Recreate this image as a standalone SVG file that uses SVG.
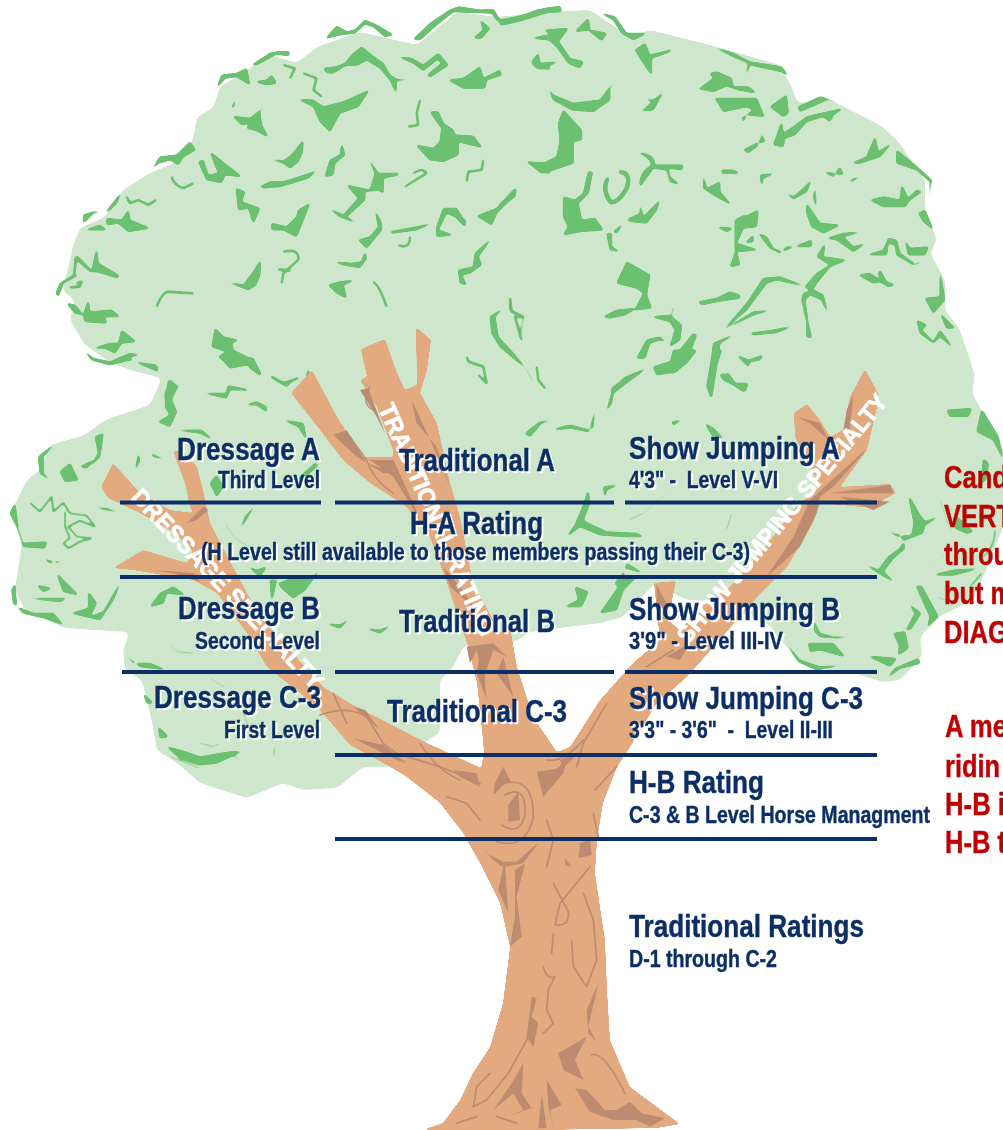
<svg xmlns="http://www.w3.org/2000/svg" width="1003" height="1130" viewBox="0 0 1003 1130">
<style>
.crown{fill:#CEE7CC}
.leaf{fill:#6CC171;stroke:none}
.leafv{fill:none;stroke:#6CC171;stroke-width:5;stroke-linecap:round;stroke-linejoin:round}
.bark{fill:#E3AA80}
.bd{fill:#BC8B70;stroke:none}
.bv{fill:none;stroke:#BC8B70;stroke-width:5;stroke-linecap:round;stroke-linejoin:round}
.rule{stroke:#0B2E66;stroke-width:4;fill:none}
text{font-family:"Liberation Sans",Arial,sans-serif;font-weight:700}
.n{fill:#0B2E66;stroke:#0B2E66;stroke-width:.4;filter:url(#halo)}
.b{font-size:31px}
.s{font-size:24px}
.r{fill:#BF0000;stroke:#BF0000;stroke-width:.4;font-size:31px}
.w{fill:#fff;stroke:#fff;stroke-width:.8;font-size:24px}
</style>
<defs>
<filter id="smooth" x="-5%" y="-5%" width="110%" height="110%" color-interpolation-filters="sRGB">
<feGaussianBlur stdDeviation="3"/>
<feComponentTransfer><feFuncA type="linear" slope="14" intercept="-6.5"/></feComponentTransfer>
</filter>
<filter id="smooth2" x="-5%" y="-5%" width="110%" height="110%" color-interpolation-filters="sRGB">
<feGaussianBlur stdDeviation="1.3"/>
<feComponentTransfer><feFuncA type="linear" slope="10" intercept="-4.5"/></feComponentTransfer>
</filter>
<filter id="round" filterUnits="userSpaceOnUse" x="0" y="0" width="1003" height="1130" color-interpolation-filters="sRGB">
<feGaussianBlur stdDeviation="0.9"/>
<feComponentTransfer><feFuncA type="linear" slope="5" intercept="-1.1"/></feComponentTransfer>
</filter>
<filter id="halo" x="-5%" y="-15%" width="110%" height="130%" color-interpolation-filters="sRGB">
<feDropShadow dx="2" dy="2" stdDeviation="0" flood-color="#fff"/>
</filter>
</defs>

<g id="crown">
<path class="crown" filter="url(#smooth)" d="M70,262 L73,245 L80,228 L105,217 L123,190 L150,173 L175,163 L193,140 L197,117 L213,108 L220,87 L247,70 L270,55 L297,63 L317,47 L360,32 L417,45 L457,12 L497,17 L550,12 L590,10 L630,37 L650,30 L710,45 L780,65 L793,90 L797,103 L830,100 L880,125 L897,140 L925,180 L925,210 L937,240 L930,253 L945,280 L945,310 L960,330 L975,375 L972,393 L1000,443 L1012,470 L1012,500 L1002,530 L985,572 L973,600 L953,610 L938,617 L920,637 L922,657 L900,680 L883,682 L850,672 L813,668 L800,660 L780,640 L770,625 L735,610 L700,600 L687,600 L673,593 L655,583 L623,617 L600,623 L567,627 L530,632 L513,643 L480,640 L463,647 L453,667 L440,680 L440,693 L440,733 L423,743 L400,765 L383,767 L363,767 L337,788 L303,790 L283,783 L247,798 L200,783 L177,763 L157,750 L153,727 L142,680 L125,670 L123,650 L130,632 L95,630 L65,628 L25,610 L15,590 L18,570 L22,545 L12,510 L27,480 L40,470 L50,445 L85,435 L105,420 L150,405 L162,378 L130,370 L110,362 L85,345 L70,320 L75,300 L62,290 Z"/>
</g>

<g id="foliage" filter="url(#round)">
<g transform="translate(50,0) scale(.33333)">
<path class="leaf" d="M745,298 L790,300 L820,320 L880,305 L958,270 L925,320 L870,340 L840,395 L810,365 L790,320 Z"/>
<path class="leaf" d="M820,205 L860,200 L885,190 L905,165 L935,140 L965,165 L1000,190 L1020,225 L1040,238 L1095,238 L1040,242 L1038,280 L1020,240 L990,205 L950,180 L925,195 L885,197 L850,220 L830,218 Z"/>
<path class="leaf" d="M1045,170 L1085,175 L1120,195 L1165,160 L1195,195 L1140,232 L1132,225 L1175,190 L1163,178 L1120,212 L1090,190 Z"/>
<path class="leaf" d="M1140,335 L1165,335 L1180,370 L1210,390 L1215,405 L1270,408 L1297,443 L1225,425 L1225,465 L1180,485 L1140,480 L1098,435 L1150,445 L1170,425 L1175,385 Z"/>
<path class="leaf" d="M1090,118 L1140,70 L1200,30 L1225,20 L1290,30 L1330,28 L1350,60 L1400,50 L1500,22 L1500,35 L1420,60 L1360,75 L1340,60 L1325,40 L1210,35 L1160,75 L1110,120 Z"/>
<path class="leaf" d="M810,135 L860,78 L890,95 L915,90 L945,60 L980,75 L1030,105 L1005,110 L970,80 L945,72 L915,100 L870,105 L830,115 Z"/>
<path class="leaf" d="M500,265 L515,225 L560,220 L590,205 L600,255 L560,230 L525,235 Z"/>
<path class="leaf" d="M605,195 L660,160 L680,155 L720,155 L715,168 L680,162 L620,195 Z"/>
<path class="leaf" d="M305,510 L330,470 L380,465 L420,425 L437,450 L400,470 L385,495 L360,480 L325,490 Z"/>
<path class="leaf" d="M480,455 L575,530 L525,525 L515,548 L470,540 L445,485 L460,480 L475,525 L505,520 Z"/>
<path class="leaf" d="M500,335 L535,345 L560,350 L600,355 L625,335 L660,305 L630,335 L635,375 L655,412 L620,392 L590,385 L600,370 L575,375 L545,345 Z"/>
<path class="leaf" d="M660,478 L700,482 L725,465 L760,420 L758,455 L745,485 L720,505 L700,490 Z"/>
<path class="leaf" d="M875,430 L885,465 L855,490 L850,525 L825,530 L840,480 L870,465 Z"/>
<path class="leaf" d="M605,545 L630,560 L660,545 L700,545 L780,520 L800,510 L775,535 L690,560 L660,562 L640,565 Z"/>
<path class="leaf" d="M890,555 L960,570 L975,520 L955,475 L985,520 L1045,520 L1050,490 L1045,525 L1000,535 L1000,580 L985,570 L945,575 L945,600 L890,650 L920,670 L870,650 L835,625 L880,645 L925,595 Z"/>
<path class="leaf" d="M665,670 L710,680 L740,650 L745,630 L780,610 L770,635 L740,710 L700,690 L665,690 Z"/>
<path class="leaf" d="M558,565 L585,575 L575,605 L630,625 L610,670 L595,625 L565,630 Z"/>
<path class="leaf" d="M1020,695 L1100,680 L1150,668 L1100,690 L1025,700 Z"/>
<path class="leaf" d="M975,630 L995,670 L995,690 L950,745 L925,720 L960,710 L985,680 Z"/>
<path class="leaf" d="M850,785 L905,790 L935,785 L945,755 L950,775 L930,803 L880,795 Z"/>
<path class="leaf" d="M1280,648 L1340,625 L1395,565 L1395,585 L1340,640 L1325,675 Z"/>
<path class="leaf" d="M1160,680 L1180,625 L1220,625 L1245,665 L1255,615 L1245,680 L1215,650 L1190,640 L1165,690 L1210,705 L1160,710 Z"/>
<path class="leaf" d="M1225,810 L1270,800 L1275,760 L1325,715 L1285,770 L1295,795 L1260,820 L1235,825 L1250,855 L1230,850 Z"/>
<path class="leaf" d="M1320,950 L1360,925 L1335,950 L1345,1010 L1420,1100 L1350,1040 L1325,1000 Z"/>
<path class="leaf" d="M75,770 L85,770 L125,812 L140,745 L145,790 L205,825 L205,835 L140,815 L120,815 L80,780 L75,825 L85,825 L40,850 L25,890 L18,880 L30,850 L70,825 Z"/>
<path class="leaf" d="M50,910 L75,915 L100,945 L115,900 L120,935 L185,930 L210,950 L165,950 L170,970 L105,965 L100,945 L75,940 Z"/>
<path class="leaf" d="M130,1045 L180,1030 L205,1030 L215,990 L258,1025 L215,1030 L195,1060 L165,1045 Z"/>
<path class="leaf" d="M100,1050 L130,1075 L180,1085 L240,1060 L270,1065 L240,1070 L250,1085 L320,1095 L325,1115 L290,1100 L240,1080 L180,1095 L125,1080 Z"/>
<path class="leaf" d="M495,985 L520,1010 L565,1020 L545,1030 L550,1050 L590,1070 L635,1130 L600,1105 L585,1075 L540,1075 L548,1105 L505,1070 L530,1055 L485,1040 Z"/>
<path class="leaf" d="M170,655 L215,660 L235,630 L240,660 L300,685 L235,695 L205,670 L170,675 Z"/>
<path class="leaf" d="M165,640 L215,575 L200,610 L180,630 Z"/>
<path class="leaf" d="M100,670 L100,645 L130,635 L165,635 L130,640 Z"/>
<path class="leaf" d="M105,690 L150,675 L170,690 L130,690 Z"/>
<path class="leaf" d="M530,845 L580,855 L610,815 L632,780 L630,825 L618,855 L595,870 L570,860 Z"/>
<path class="leaf" d="M835,855 L870,845 L915,840 L880,855 L890,895 L860,880 Z"/>
<path class="leafv" d="M320,920 Q330,890 350,875 L430,880"/>
<path class="leafv" d="M700,755 Q750,745 745,780 L700,820 L695,850"/>
<path class="leafv" d="M685,808 L720,812"/>
<path class="leafv" d="M1045,735 Q1080,750 1080,710"/>
<path class="leafv" d="M970,845 Q990,860 1010,920"/>
<path class="leafv" d="M1065,560 L1130,520 Q1120,500 1090,520"/>
<path class="leafv" d="M1250,545 L1255,515 L1295,510 L1300,480"/>
<path class="leafv" d="M1110,300 L1100,340 L1105,375 L1075,380"/>
<path class="leafv" d="M365,530 Q370,555 400,565 L430,550"/>
<path class="leafv" d="M700,195 L735,205 L720,235"/>
<path class="leafv" d="M760,220 L800,235 L790,270 L815,290"/>
<path class="leafv" d="M230,590 L240,610 L265,600 L295,615 L318,600"/>
<path class="leafv" d="M80,850 L95,845 L90,860 L60,862"/>
<path class="leafv" d="M1380,895 L1385,935 L1420,950 L1395,950 L1415,1020"/>
<path class="leafv" d="M1250,1070 L1255,1085 L1300,1100 L1310,1150 L1285,1125"/>
<path class="leafv" d="M665,1130 L700,1150 L745,1135"/>
<path class="leafv" d="M530,1185 L535,1160 L590,1170"/>
<path class="leafv" d="M1460,1100 L1465,1140 L1485,1165"/>
<path class="leaf" d="M730,1175 L760,1165 L775,1105 L785,1150 L765,1175 L735,1180 Z"/>
<path class="leaf" d="M345,1180 L360,1140 L385,1160 L360,1200 L345,1200 Z"/>
<path class="leaf" d="M1290,60 L1320,85 L1295,115 L1270,115 L1300,90 Z"/>
<path class="leaf" d="M1195,240 L1240,235 L1290,200 L1300,235 L1350,210 L1355,225 L1310,240 L1305,265 L1240,265 Z"/>
<path class="leaf" d="M1450,115 L1500,105 L1500,120 L1475,118 Z"/>
<path class="leaf" d="M1445,190 L1465,170 L1470,200 L1500,200 L1500,208 L1460,205 Z"/>
<path class="leaf" d="M1430,485 L1500,490 L1500,520 L1470,515 Z"/>
<path class="leaf" d="M545,320 L560,290 L550,325 Z"/>
<path class="leaf" d="M615,245 L650,240 L665,225 L680,250 L650,255 Z"/>
</g>
<g transform="translate(500,0) scale(.33333)">
<path class="leaf" d="M0,60 L60,50 L110,30 L180,18 L185,35 L110,40 L50,65 L0,75 Z"/>
<path class="leaf" d="M300,38 L345,50 L380,100 L440,100 L400,120 L365,100 L340,60 Z"/>
<path class="leaf" d="M95,115 L140,105 L180,130 L210,175 L250,185 L240,205 L205,190 L170,140 L140,115 Z"/>
<path class="leaf" d="M135,90 L205,85 L175,125 Z"/>
<path class="leaf" d="M95,185 L115,160 L120,190 L175,185 L120,208 Z"/>
<path class="leaf" d="M225,95 L265,55 L270,90 L320,100 L305,122 L265,90 Z"/>
<path class="leaf" d="M405,150 L435,130 L450,165 L510,150 L520,135 L510,155 L455,175 L455,225 L430,190 Z"/>
<path class="leaf" d="M145,265 L160,285 L220,310 L300,300 L330,260 L355,240 L330,265 L330,300 L280,335 L215,330 L160,300 Z"/>
<path class="leaf" d="M190,330 L245,390 L245,420 L220,425 L220,490 L160,510 L125,520 L80,483 L120,495 L170,470 L180,425 L175,370 Z"/>
<path class="leaf" d="M190,590 L225,600 L250,580 L265,515 L278,515 L265,580 L235,610 L245,660 L285,655 L310,690 L240,695 L190,705 L205,680 L190,650 Z"/>
<path class="leafv" style="stroke-width:10" d="M322,538 Q305,570 332,607 Q355,610 380,565 Q395,520 362,516"/>
<path class="leaf" d="M413,458 Q465,460 465,495 L550,495 L545,510 L505,505 L510,530 L540,555 L510,545 L500,510 L460,505 L420,560 Q415,520 455,495 Q450,470 413,458 Z"/>
<path class="leaf" d="M380,660 L420,640 L420,612 L430,650 L480,600 L470,630 L440,670 L395,665 Z"/>
<path class="leaf" d="M380,785 L450,825 L440,885 L455,925 L405,930 L430,880 L410,865 L350,850 Z"/>
<path class="leaf" d="M310,950 L350,930 L410,925 L375,945 L330,955 Z"/>
<path class="leaf" d="M565,260 L600,265 L640,235 L630,220 L650,215 L695,235 L700,260 L745,260 L770,280 L715,270 L680,258 L640,275 Z"/>
<path class="leaf" d="M645,295 L770,295 L793,350 L740,345 L730,365 L740,385 L725,355 L760,330 L740,320 L670,335 Z"/>
<path class="leaf" d="M810,320 L860,285 L865,340 L850,350 Z"/>
<path class="leaf" d="M820,435 L845,365 L850,400 L880,380 L920,350 L1030,325 L1000,345 L990,365 L970,350 L920,365 L885,405 L855,415 L850,440 Z"/>
<path class="leaf" d="M640,140 L700,160 L750,185 L845,200 L865,228 L845,215 L750,195 L735,235 L745,190 L700,170 Z"/>
<path class="leaf" d="M885,300 L895,320 L960,290 L1060,320 L980,300 L900,335 Z"/>
<path class="leaf" d="M730,450 L770,430 L795,425 L775,380 L785,410 L770,440 L745,458 Z"/>
<path class="leaf" d="M1055,490 L1100,470 L1125,410 L1135,455 L1175,430 L1140,470 L1080,490 Z"/>
<path class="leaf" d="M1190,450 L1245,495 L1295,540 L1285,620 L1290,545 L1250,510 L1190,490 Z"/>
<path class="leaf" d="M1110,600 L1150,590 L1200,600 L1205,555 L1225,595 L1250,570 L1265,575 L1230,600 L1215,620 L1150,620 Z"/>
<path class="leaf" d="M1255,640 L1275,630 L1300,690 L1270,665 Z"/>
<path class="leaf" d="M1320,810 L1335,900 L1300,940 L1275,895 L1320,890 Z"/>
<path class="leaf" d="M1320,940 L1365,985 L1340,985 Z"/>
<path class="leaf" d="M1250,960 L1280,975 L1265,990 L1300,1025 L1320,990 L1360,1045 L1320,1010 L1300,1030 L1260,1000 Z"/>
<path class="leaf" d="M920,610 L960,670 L1020,675 L970,700 L935,680 L920,640 Z"/>
<path class="leaf" d="M945,560 L950,630 L940,590 Z"/>
<path class="leaf" d="M775,700 L800,710 L820,745 L845,755 L935,720 L935,740 L860,740 L840,760 L810,745 Z"/>
<path class="leaf" d="M705,660 L735,645 L735,575 L735,650 L775,630 L770,680 L730,685 L710,730 L775,750 L710,755 L720,795 L690,800 L705,760 L705,710 Z"/>
<path class="leaf" d="M735,730 L760,705 L760,725 Z"/>
<path class="leaf" d="M610,525 L620,565 L660,545 L660,575 L695,615 L640,585 L610,565 Z"/>
<path class="leaf" d="M670,990 L740,910 L790,835 L840,830 L920,860 L830,840 L800,850 L740,930 Z"/>
<path class="leaf" d="M670,990 L760,935 L815,930 L760,945 Z"/>
<path class="leaf" d="M750,1000 L820,990 L880,978 L830,998 L760,1005 Z"/>
<path class="leaf" d="M910,880 L940,870 L970,885 L985,945 L965,900 L930,885 L915,900 L925,970 L935,1015 L920,1010 L920,965 L905,900 Z"/>
<path class="leaf" d="M915,860 L950,820 L990,795 L950,770 L975,730 L970,770 L1040,780 L990,800 L950,850 L935,875 Z"/>
<path class="leaf" d="M980,715 L1030,700 L1085,695 L1030,710 L1060,740 L1100,730 L1090,735 L1060,755 L1010,720 Z"/>
<path class="leaf" d="M1100,765 L1150,750 L1165,715 L1190,720 L1200,760 L1250,795 L1270,780 L1240,795 L1190,765 L1185,735 L1165,730 L1160,765 Z"/>
<path class="leaf" d="M1215,720 L1230,745 L1285,740 L1275,765 L1225,765 Z"/>
<path class="leaf" d="M1075,825 L1110,820 L1140,840 L1135,820 L1155,785 L1140,810 L1160,845 L1185,855 L1165,860 L1140,845 L1120,850 Z"/>
<path class="leaf" d="M455,950 L510,945 L545,975 L540,1020 L510,1040 L525,990 L510,965 Z"/>
<path class="leaf" d="M460,1100 L510,1085 L560,1025 L580,1000 L590,1005 L570,1060 L635,1070 L640,1030 L710,1000 L660,1030 L650,1100 L635,1195 L620,1160 L635,1070 L575,1060 L530,1115 L470,1125 Z"/>
<path class="leaf" d="M335,1165 L380,1130 L440,1105 L385,1145 L340,1180 L335,1200 Z"/>
<path class="leaf" d="M660,1120 L680,1125 L700,1150 L740,1150 L730,1175 L700,1155 L670,1140 Z"/>
<path class="leaf" d="M595,905 L650,895 L690,875 L720,885 L720,895 L650,905 L605,915 Z"/>
<path class="leaf" d="M710,1065 L745,1080 L790,1065 L780,1080 L750,1085 L745,1100 L725,1080 Z"/>
<path class="leaf" d="M410,1075 L440,1020 L480,1010 L500,1030 L520,1035 L480,1020 L450,1030 L435,1075 Z"/>
<path class="leaf" d="M405,315 L430,330 L490,275 L460,330 L430,333 Z"/>
<path class="leaf" d="M430,280 L450,300 L470,295 L450,305 Z"/>
<path class="leaf" d="M665,510 L700,510 L720,520 L665,520 Z"/>
<path class="leaf" d="M780,525 L825,520 L790,535 L785,560 Z"/>
<path class="leaf" d="M855,575 L880,590 L905,570 L935,540 L920,575 L880,598 Z"/>
<path class="leaf" d="M1050,540 L1085,528 L1055,545 Z"/>
<path class="leaf" d="M970,515 L1000,530 L1020,500 L1030,525 Z"/>
<path class="leaf" d="M320,700 L335,700 L335,740 L360,755 L330,750 Z"/>
<path class="leaf" d="M340,695 L370,670 L350,700 Z"/>
<path class="leaf" d="M0,610 L25,595 L50,565 L45,590 L0,622 Z"/>
<path class="leaf" d="M650,680 L700,685 L680,695 Z"/>
<path class="leafv" style="stroke-width:3" d="M520,920 L515,945 M30,895 L30,930 L70,950 L60,1010"/>
<path class="leafv" style="stroke-width:3" d="M0,1020 Q60,1070 100,1145"/>
</g>
<g transform="translate(0,350) scale(.33333)">
<path class="leaf" d="M505,90 L530,110 L515,150 L530,185 L510,230 L475,215 L510,195 L495,170 Z"/>
<path class="leaf" d="M660,20 L700,0 L730,20 L760,25 L785,75 L740,45 L690,55 Z"/>
<path class="leaf" d="M815,85 L860,100 L885,85 L860,110 Z"/>
<path class="leaf" d="M610,130 L680,130 L690,110 L730,120 L690,120 L680,145 Z"/>
<path class="leaf" d="M735,165 L770,155 L800,170 L800,185 L770,165 Z"/>
<path class="leaf" d="M525,240 L600,250 L640,270 L605,240 Z"/>
<path class="leaf" d="M850,210 L910,220 L920,270 L895,230 Z"/>
<path class="leaf" d="M420,275 L450,310 L500,330 L460,320 Z"/>
<path class="leaf" d="M415,310 L405,365 L420,330 Z"/>
<path class="leaf" d="M945,340 L955,345 L900,395 L885,420 L895,385 Z"/>
<path class="leaf" d="M650,375 L670,410 L650,440 L630,400 Z"/>
<path class="leaf" d="M720,540 L750,490 L770,460 L735,500 Z"/>
<path class="leaf" d="M285,260 L310,250 L300,320 L270,350 L295,310 Z"/>
<path class="leaf" d="M180,365 L210,340 L235,390 L195,395 Z"/>
<path class="leaf" d="M225,320 L280,290 L240,310 Z"/>
<path class="leaf" d="M240,350 L280,330 L260,355 Z"/>
<path class="leaf" d="M115,320 L165,280 L130,320 L130,370 L155,395 L120,370 Z"/>
<path class="leaf" d="M30,490 L45,460 L55,535 L70,580 L140,575 L135,595 L70,590 L50,530 Z"/>
<path class="leafv" style="stroke-width:4" d="M90,458 L120,485 L155,440 L160,485 L190,458 L210,490 L260,497 L285,530 L240,512 L205,530 L230,560 L275,565 L240,575 L205,595 L190,580 L210,565 L195,530 L195,485"/>
<path class="leaf" d="M270,470 L320,475 L370,490 L320,480 Z"/>
<path class="leaf" d="M35,720 L70,650 L45,700 L50,770 L100,790 L160,790 L190,825 L135,805 L70,790 L40,760 Z"/>
<path class="leaf" d="M110,705 L155,715 L130,725 Z"/>
<path class="leaf" d="M170,670 L210,710 L235,735 L190,725 Z"/>
<path class="leaf" d="M80,745 L200,745 L230,730 L180,755 Z"/>
<path class="leaf" d="M265,725 L290,760 L270,800 L310,785 L365,690 L340,750 L300,810 L215,790 L265,775 Z"/>
<path class="leaf" d="M130,625 L150,640 L190,630 L170,640 Z"/>
<path class="leaf" d="M370,910 L400,940 L450,940 L500,960 L420,950 Z"/>
<path class="leaf" d="M450,770 L480,730 L520,710 L555,735 L500,730 L490,760 Z"/>
<path class="leaf" d="M835,700 L890,680 L925,690 L960,660 L915,720 L880,745 L845,715 Z"/>
<path class="leaf" d="M745,650 L770,660 L800,650 L780,680 Z"/>
<path class="leaf" d="M810,690 L815,755 L830,690 Z"/>
<path class="leaf" d="M975,690 L945,740 L970,700 Z"/>
<path class="leaf" d="M975,820 L1020,825 L1050,805 L1020,835 Z"/>
<path class="leaf" d="M1095,835 L1140,840 L1175,825 L1140,850 Z"/>
<path class="leaf" d="M500,1190 L540,1200 L600,1220 L690,1205 L725,1205 L650,1240 L600,1245 L540,1225 Z"/>
<path class="leaf" d="M475,1130 L505,1160 L480,1165 Z"/>
<path class="leaf" d="M430,1030 L460,1060 L440,1060 Z"/>
<path class="leafv" style="stroke-width:3" d="M510,880 L530,905 L580,910"/>
<path class="leafv" style="stroke-width:3" d="M630,985 L670,1010 L695,985"/>
<path class="leafv" style="stroke-width:3" d="M460,1180 L495,1220"/>
<path class="leafv" style="stroke-width:3" d="M600,1180 L640,1190 L660,1180"/>
<path class="leafv" style="stroke-width:3" d="M675,520 L705,565 L745,590"/>
<path class="leafv" style="stroke-width:3" d="M825,1190 L820,1220"/>
<path class="leafv" style="stroke-width:3" d="M720,1060 L745,1130 M510,1220 L600,1255 M690,1210 L720,1230"/>
</g>
<g transform="translate(500,350) scale(.33333)">
<path class="leaf" d="M460,60 L510,40 L520,0 L590,0 L560,40 L520,70 Z"/>
<path class="leaf" d="M640,0 L665,0 L640,80 L630,145 L625,100 Z"/>
<path class="leaf" d="M660,80 L685,70 L710,105 L745,100 L735,125 L705,105 Z"/>
<path class="leaf" d="M335,130 L370,85 L430,60 L375,95 L340,130 L335,160 L305,205 L320,180 Z"/>
<path class="leaf" d="M75,250 L120,215 L160,210 L125,220 L90,260 Z"/>
<path class="leaf" d="M170,235 L210,225 L270,240 L285,175 L280,230 L265,245 L210,235 L165,240 Z"/>
<path class="leaf" d="M250,465 L265,420 L270,460 L250,510 L265,520 L320,545 L410,550 L430,560 L380,560 L300,555 L240,530 L200,560 L225,525 Z"/>
<path class="leaf" d="M380,640 L430,670 L380,655 L345,700 L360,720 Z"/>
<path class="leaf" d="M225,710 L265,725 L245,770 L195,770 L235,750 Z"/>
<path class="leaf" d="M300,790 L370,690 L410,680 L370,720 L350,780 Z"/>
<path class="leaf" d="M310,410 L355,405 L320,420 L315,445 Z"/>
<path class="leaf" d="M615,220 L640,235 L670,265 L635,255 Z"/>
<path class="leaf" d="M515,215 L545,210 L520,225 Z"/>
<path class="leaf" d="M925,880 L1000,880 L1035,920 L960,900 L930,905 Z"/>
<path class="leaf" d="M850,870 L900,930 L960,950 L1030,945 L950,960 L895,935 Z"/>
<path class="leaf" d="M940,810 L960,850 L1000,860 L1060,860 L1010,865 L960,860 L945,845 Z"/>
<path class="leafv" style="stroke-width:3" d="M385,510 L430,490 L500,430"/>
<path class="leafv" style="stroke-width:3" d="M680,540 L695,490"/>
</g>
<g transform="translate(840,400) scale(.33333)">
<path class="leaf" d="M135,392 L175,410 L215,405 L222,370 L205,285 L240,345 L255,365 L300,348 L255,375 L248,400 L190,422 L180,405 Z"/>
<path class="leaf" d="M190,425 L195,445 L160,475 L130,515 L165,548 L125,525 L70,490 L115,510 L145,470 L180,445 Z"/>
<path class="leaf" d="M228,558 L245,558 L295,650 L262,682 L270,650 Z"/>
<path class="leaf" d="M208,612 L243,640 L212,688 L198,690 L225,640 Z"/>
<path class="leaf" d="M160,700 L195,695 L205,745 L175,765 L178,735 Z"/>
<path class="leaf" d="M85,768 L170,775 L150,800 Z"/>
<path class="leaf" d="M165,805 L235,775 L240,790 L180,805 L140,835 Z"/>
<path class="leaf" d="M410,95 L425,28 L475,110 L490,180 L460,120 Z"/>
<path class="leaf" d="M320,30 L395,25 L385,50 L330,50 Z"/>
<path class="leaf" d="M430,175 L445,190 L440,235 L400,275 L425,235 Z"/>
<path class="leaf" d="M275,525 L340,510 L420,505 L340,525 Z"/>
<path class="leaf" d="M350,350 L400,395 L380,400 L345,385 Z"/>
<path class="leafv" style="stroke-width:3" d="M280,440 L310,470 L270,505"/>
<path class="leafv" style="stroke-width:3" d="M290,590 L340,610"/>
<path class="leafv" style="stroke-width:4" d="M390,560 L425,520 M465,390 Q465,440 430,470"/>
<path class="leafv" style="stroke-width:3" d="M300,300 L335,400"/>
</g>
</g>

<g id="tree">
<path class="bark" filter="url(#smooth2)" d="M422,1130 L443,1123 L460,1100 L473,1073 L490,1047 L503,1003 L510,947 L500,903 L480,863 L463,833 L440,803 L407,777 L387,765 L350,745 L320,710 L300,693 L267,667 L247,633 L217,593 L193,580 L133,570 L113,568 L143,550 L187,563 L193,550 L170,530 L140,513 L108,498 L101,487 L113,463 L140,493 L170,510 L193,513 L190,507 L185,483 L173,451 L182,451 L197,467 L203,490 L210,523 L233,567 L260,617 L290,650 L323,687 L353,705 L427,743 L481,768 L484,753 L483,740 L477,683 L467,643 L447,583 L430,537 L407,507 L370,483 L343,460 L320,430 L291,393 L312,370 L337,417 L363,457 L393,457 L393,450 L377,407 L360,380 L367,377 L361,349 L385,339 L397,373 L405,390 L417,385 L416,327 L431,340 L427,370 L420,393 L437,423 L450,483 L460,517 L473,583 L500,633 L510,627 L517,667 L533,717 L557,752 L570,747 L600,700 L633,663 L660,640 L654,583 L676,581 L668,620 L680,630 L707,600 L730,587 L763,550 L793,510 L820,487 L795,437 L794,413 L807,404 L820,420 L830,437 L843,430 L850,397 L865,369 L878,393 L878,403 L867,450 L840,487 L890,484 L896,493 L883,500 L873,508 L820,503 L813,523 L787,567 L757,597 L717,643 L687,677 L657,703 L630,747 L617,767 L603,803 L597,840 L595,873 L600,907 L605,940 L607,990 L610,1040 L630,1087 L680,1124 L657,1128 L543,1130 Z"/>
<g transform="translate(330,740) scale(.33333)">
<path class="bd" d="M535,195 L565,155 L570,240 L535,245 Z"/>
<path class="bv" d="M495,140 Q610,90 610,230 Q590,330 500,305"/>
<path class="bv" d="M525,165 Q590,130 585,225 Q570,290 515,255"/>
<path class="bd" d="M495,130 L520,80 L545,130 L530,125 L490,165 Z"/>
<path class="bd" d="M620,95 L690,85 L640,170 Z"/>
<path class="bd" d="M690,60 L750,35 L700,85 Z"/>
<path class="bd" d="M450,310 Q490,370 520,380 L505,450 L535,520 L525,380 L580,370 L625,310 L610,320 L560,365 L520,365 L470,340 Z"/>
<path class="bd" d="M555,390 L585,370 L560,470 L575,590 L540,620 L555,530 Z"/>
<path class="bd" d="M750,310 L780,300 L785,345 L745,355 Z"/>
<path class="bd" d="M705,355 L725,380 L705,375 Z"/>
<path class="bv" d="M670,430 L715,515 Q720,560 675,555 L690,490 L780,380"/>
<path class="bv" d="M760,460 L790,540 L800,660 L770,740 L730,680 L725,600"/>
<path class="bv" d="M650,240 L670,300 L650,380"/>
<path class="bd" d="M805,730 L775,860 L800,905 L775,880 L770,810 Z"/>
<path class="bd" d="M770,890 L685,940 L700,990 L760,1020 L735,960 Z"/>
<path class="bv" d="M785,945 Q820,930 885,1060"/>
<path class="bd" d="M735,1045 L770,1050 L825,1110 L860,1110 L900,1085 L935,1120 L1005,1135 L960,1160 L920,1140 L850,1140 L780,1115 Z"/>
<path class="bd" d="M650,1020 L695,1095 L660,1110 L670,1165 L655,1100 Z"/>
<path class="bd" d="M625,1165 L635,1060 L650,1165 Z"/>
<path class="bd" d="M580,970 L575,1060 L605,1105 L530,1130 L580,1110 L550,1060 L490,1110 L545,1030 Z"/>
<path class="bd" d="M605,770 L620,775 L605,830 L625,850 L610,920 L590,890 Z"/>
<path class="bv" d="M610,870 L590,900 L535,1000 L470,1080 L430,1100 L440,1040 L480,1000"/>
<path class="bv" d="M640,680 Q650,720 675,710 L655,750 L650,810 L670,850 L640,880"/>
<path class="bv" d="M670,580 L665,640"/>
<path class="bv" d="M380,1150 L440,1130 M500,1130 L560,1150"/>
<path class="bv" d="M350,170 L410,190 L450,240"/>
<path class="bv" d="M230,50 L330,80 L450,130"/>
<path class="bd" d="M330,50 L370,90 L440,100 L450,140 L390,110 Z"/>
<path class="bv" d="M795,150 L860,80"/>
<path class="bv" d="M805,290 L790,220"/>
<path class="bv" d="M650,60 Q700,70 760,0"/>
</g>
<g transform="translate(350,380) scale(.33333)">
<path class="bd" d="M60,240 L130,240 L190,370 L210,420 L130,290 Z"/>
<path class="bd" d="M30,30 L55,25 L105,160 L80,110 Z"/>
<path class="bd" d="M185,60 L200,130 L260,200 L300,320 L250,200 Z"/>
<path class="bd" d="M350,800 L430,790 L470,830 L430,810 L400,900 L380,810 L360,850 Z"/>
<path class="bd" d="M280,560 L330,620 L380,690 L300,620 Z"/>
<path class="bd" d="M395,790 L410,960 L380,880 Z"/>
<path class="bd" d="M460,830 L490,950 L440,880 Z"/>
<path class="bv" style="stroke-width:4" d="M0,170 L50,240 Q70,300 130,340"/>
<path class="bv" style="stroke-width:4" d="M60,20 Q30,70 70,90"/>
</g>
<g transform="translate(120,660) scale(.33333)">
<path class="bv" d="M600,165 Q680,135 740,170 L790,250 L830,280"/>
<path class="bv" d="M640,100 L680,190"/>
<path class="bd" d="M700,235 L790,255 L860,310 L830,300 Z"/>
<path class="bd" d="M700,140 L735,150 L780,210 Z"/>
<path class="bv" d="M900,250 Q950,330 1020,360"/>
</g>
<g transform="translate(0,350) scale(.33333)">
<path class="bd" d="M460,660 L580,670 L600,695 L520,670 Z"/>
<path class="bd" d="M560,520 L610,470 L625,480 L590,510 Z"/>
<path class="bd" d="M1000,255 L1040,240 L1100,340 L1190,370 L1150,370 L1070,320 Z"/>
</g>
<g transform="translate(500,350) scale(.33333)">
<path class="bd" d="M985,430 L1170,405 L1180,430 L1100,430 Z"/>
<path class="bd" d="M1040,180 L1060,135 L1050,240 L1030,250 Z"/>
<path class="bd" d="M1095,300 L1090,310 L1000,410 L960,440 L950,490 L900,590 L800,680 L880,560 L930,450 Z"/>
<path class="bd" d="M890,200 L960,220 L985,270 L930,220 Z"/>
<path class="bd" d="M470,705 L500,760 L490,810 L470,770 Z"/>
<path class="bd" d="M1020,440 L1170,455 L1120,480 L1040,450 Z"/>
<path class="bd" d="M130,1290 L200,1230 L190,1270 L130,1340 Z"/>
<path class="bd" d="M500,920 L570,880 L540,930 Z"/>
<path class="bv" d="M440,950 L520,900"/>
<path class="bv" d="M320,1060 L250,1180 L230,1250"/>
</g>
</g>

<g id="specialty-labels">
<text class="w" transform="translate(130,498) rotate(46.5)" textLength="266" lengthAdjust="spacingAndGlyphs">DRESSAGE SPECIALTY</text>
<text class="w" transform="translate(378,408) rotate(66)" textLength="252" lengthAdjust="spacingAndGlyphs">TRADITIONAL RATING</text>
<text class="w" transform="translate(688,645) rotate(-50.4)" textLength="315" lengthAdjust="spacingAndGlyphs">SHOW JUMPING SPECIALTY</text>
</g>

<g id="rules" class="rule">
<path d="M120,502.5H321M335,502.5H614M625,502.5H877"/>
<path d="M120,577H877"/>
<path d="M122,672H321M335,672H614M625,672H877"/>
<path d="M335,755H877"/>
<path d="M335,839H877"/>
</g>

<g id="dressage">
<text class="n b" x="177" y="460" textLength="143" lengthAdjust="spacingAndGlyphs">Dressage A</text>
<text class="n s" x="218" y="488" textLength="102" lengthAdjust="spacingAndGlyphs">Third Level</text>
<text class="n b" x="178" y="619" textLength="142" lengthAdjust="spacingAndGlyphs">Dressage B</text>
<text class="n s" x="195" y="649" textLength="125" lengthAdjust="spacingAndGlyphs">Second Level</text>
<text class="n b" x="154" y="708" textLength="167" lengthAdjust="spacingAndGlyphs">Dressage C-3</text>
<text class="n s" x="224" y="738" textLength="96" lengthAdjust="spacingAndGlyphs">First Level</text>
</g>
<g id="traditional">
<text class="n b" x="399" y="471" textLength="156" lengthAdjust="spacingAndGlyphs">Traditional A</text>
<text class="n b" x="410" y="534" textLength="133" lengthAdjust="spacingAndGlyphs">H-A Rating</text>
<text class="n s" x="201" y="560" textLength="549" lengthAdjust="spacingAndGlyphs">(H Level still available to those members passing their C-3)</text>
<text class="n b" x="399" y="632" textLength="156" lengthAdjust="spacingAndGlyphs">Traditional B</text>
<text class="n b" x="387" y="722" textLength="180" lengthAdjust="spacingAndGlyphs">Traditional C-3</text>
</g>
<g id="show-jumping">
<text class="n b" x="629" y="459" textLength="211" lengthAdjust="spacingAndGlyphs">Show Jumping A</text>
<text class="n s" x="629" y="488" textLength="149" lengthAdjust="spacingAndGlyphs" xml:space="preserve">4'3" -  Level V-VI</text>
<text class="n b" x="629" y="620" textLength="211" lengthAdjust="spacingAndGlyphs">Show Jumping B</text>
<text class="n s" x="629" y="649" textLength="154" lengthAdjust="spacingAndGlyphs">3'9" - Level III-IV</text>
<text class="n b" x="629" y="709" textLength="234" lengthAdjust="spacingAndGlyphs">Show Jumping C-3</text>
<text class="n s" x="629" y="738" textLength="204" lengthAdjust="spacingAndGlyphs" xml:space="preserve">3'3" - 3'6"  -  Level II-III</text>
<text class="n b" x="629" y="793" textLength="135" lengthAdjust="spacingAndGlyphs">H-B Rating</text>
<text class="n s" x="629" y="823" textLength="301" lengthAdjust="spacingAndGlyphs">C-3 &amp; B Level Horse Managment</text>
<text class="n b" x="629" y="937" textLength="235" lengthAdjust="spacingAndGlyphs">Traditional Ratings</text>
<text class="n s" x="629" y="967" textLength="148" lengthAdjust="spacingAndGlyphs">D-1 through C-2</text>
</g>
<g id="notes">
<text class="r" x="944" y="488" textLength="64" lengthAdjust="spacingAndGlyphs">Cand</text>
<text class="r" x="944" y="527" textLength="68" lengthAdjust="spacingAndGlyphs">VERT</text>
<text class="r" x="944" y="565" textLength="65" lengthAdjust="spacingAndGlyphs">throu</text>
<text class="r" x="944" y="604" textLength="69" lengthAdjust="spacingAndGlyphs">but m</text>
<text class="r" x="944" y="643" textLength="64" lengthAdjust="spacingAndGlyphs">DIAG</text>
<text class="r" x="945" y="737" textLength="62" lengthAdjust="spacingAndGlyphs">A me</text>
<text class="r" x="945" y="777" textLength="55" lengthAdjust="spacingAndGlyphs">ridin</text>
<text class="r" x="945" y="815" textLength="60" lengthAdjust="spacingAndGlyphs">H-B i</text>
<text class="r" x="945" y="853" textLength="61" lengthAdjust="spacingAndGlyphs">H-B t</text>
</g>
</svg>
